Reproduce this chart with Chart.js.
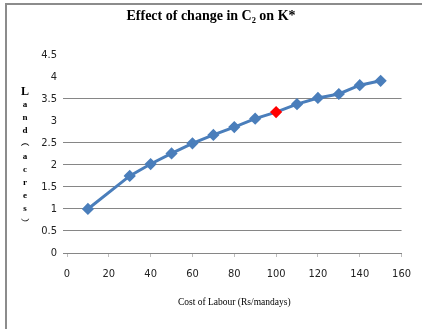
<!DOCTYPE html>
<html>
<head>
<meta charset="utf-8">
<script src="https://cdn.jsdelivr.net/npm/chart.js@4"></script>
<style>
  html, body { margin: 0; padding: 0; background: #fff; }
  #wrap { width: 422px; height: 329px; }
</style>
</head>
<body>
<div id="wrap"><canvas id="myChart" width="422" height="329"></canvas></div>
<script>
// cost of labour (Rs/mandays) and land (acres)
const labourCost = [10, 30, 40, 50, 60, 70, 80, 90, 100, 110, 120, 130, 140, 150];
const landAcres = [1.0, 1.75, 2.02, 2.26, 2.49, 2.68, 2.86, 3.05, 3.2, 3.38, 3.52, 3.61, 3.81, 3.91];
const highlightCost = 100;
const yTitleLetters = ['L', 'a', 'n', 'd', '︵', 'a', 'c', 'r', 'e', 's', '︶'];
const hiddenGrid = [3, 4, 4.5];

const points = labourCost.map((x, i) => ({ x: x, y: landAcres[i] }));

// frame + stacked y title
const extras = {
  id: 'extras',
  beforeDraw(chart) {
    const ctx = chart.ctx;
    ctx.save();
    ctx.strokeStyle = '#8c8c8c';
    ctx.lineWidth = 2;
    ctx.beginPath();
    ctx.moveTo(6, 329);
    ctx.lineTo(6, 4);
    ctx.lineTo(422, 4);
    ctx.stroke();
    ctx.restore();
  },
  afterDraw(chart) {
    const ctx = chart.ctx;
    ctx.save();
    ctx.fillStyle = '#000';
    ctx.textAlign = 'center';
    ctx.textBaseline = 'middle';
    yTitleLetters.forEach((ch, i) => {
      ctx.font = (i === 0 ? 'bold 12px' : 'bold 9px') + ' "Liberation Serif", serif';
      ctx.fillText(ch, 25, 92 + i * 13);
    });
    ctx.restore();
  }
};

const tickFont = { family: '"Liberation Sans Narrow", "DejaVu Sans Condensed", sans-serif', size: 11 };

const ctx = document.getElementById('myChart').getContext('2d');
const myChart = new Chart(ctx, {
  type: 'line',
  data: {
    datasets: [{
      data: points,
      borderColor: '#4a7ebb',
      borderWidth: 3,
      pointStyle: 'rectRot',
      pointRadius: 4,
      pointHoverRadius: 4,
      pointBackgroundColor: c => (c.raw && c.raw.x === highlightCost) ? '#ff0000' : '#4a7ebb',
      pointBorderColor: c => (c.raw && c.raw.x === highlightCost) ? '#ff0000' : '#4a7ebb',
      tension: 0
    }]
  },
  plugins: [extras],
  options: {
    responsive: false,
    animation: false,
    layout: { padding: { left: 0, right: 0, top: 0, bottom: 17 } },
    plugins: {
      legend: { display: false },
      tooltip: { enabled: false },
      title: {
        display: true,
        text: 'Effect of change in C₂ on K*',
        color: '#000',
        font: { family: '"Liberation Serif", serif', size: 14, weight: 'bold' },
        padding: { top: 8, bottom: 30 }
      }
    },
    scales: {
      x: {
        type: 'linear',
        min: 0,
        max: 160,
        afterFit: s => { s.height = 59; },
        border: { color: '#868686', width: 1 },
        grid: { drawOnChartArea: false, drawTicks: true, tickLength: 4, color: '#bdbdbd' },
        ticks: {
          stepSize: 20,
          color: '#222',
          padding: 11,
          font: tickFont
        },
        title: {
          display: true,
          text: 'Cost of Labour (Rs/mandays)',
          color: '#000',
          font: { family: '"Liberation Serif", serif', size: 9.5 }
        }
      },
      y: {
        min: 0,
        max: 4.5,
        afterFit: s => { s.width = 67; },
        border: { display: false },
        grid: {
          color: c => hiddenGrid.includes(c.tick.value) ? 'rgba(0,0,0,0)' : '#868686',
          tickLength: 4
        },
        ticks: {
          stepSize: 0.5,
          color: '#222',
          padding: 6,
          font: tickFont,
          callback: v => String(v)
        }
      },
      // empty right-hand spacer so the title centres like the original
      spacer: {
        position: 'right',
        afterFit: s => { s.width = 19; },
        border: { display: false },
        grid: { display: false },
        ticks: { display: false }
      }
    }
  }
});
</script>
</body>
</html>
